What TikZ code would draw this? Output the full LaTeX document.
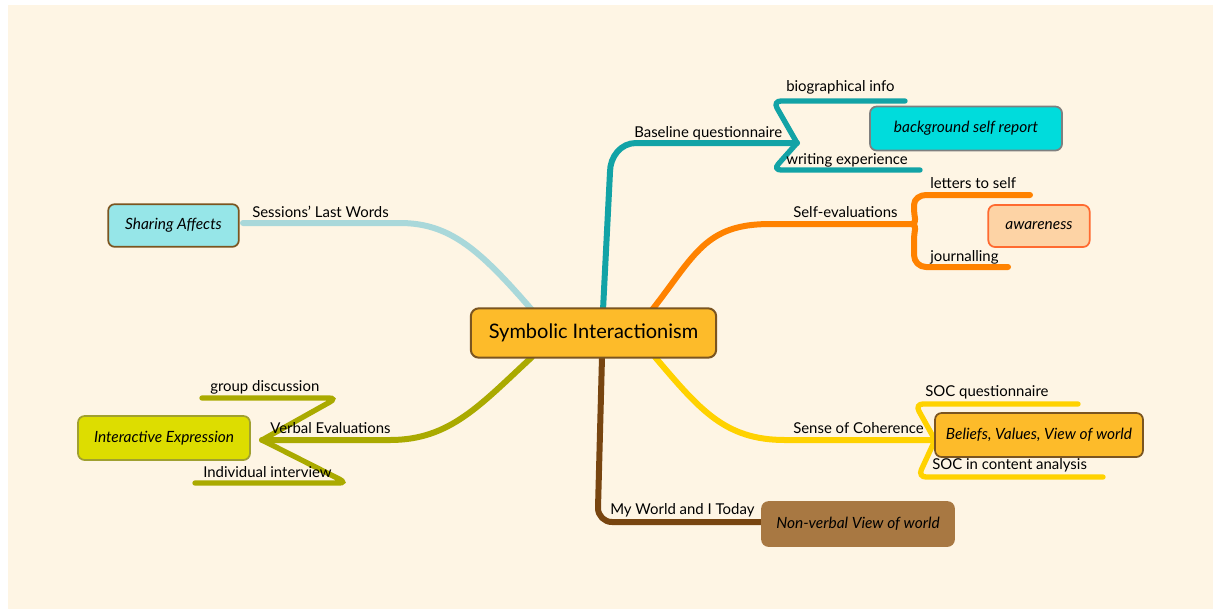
\documentclass[tikz,border=0pt]{standalone}
\usepackage{fontspec}
\setmainfont{Lato}
\definecolor{bgc}{HTML}{FEF5E4}
\definecolor{tealc}{HTML}{12A3A6}
\definecolor{orc}{HTML}{FF8200}
\definecolor{lbc}{HTML}{A9D8DA}
\definecolor{olc}{HTML}{AAAA00}
\definecolor{yec}{HTML}{FFD200}
\definecolor{brc}{HTML}{784510}
\definecolor{boxbr}{HTML}{7B5520}
\definecolor{cfill}{HTML}{FDBB2A}
\definecolor{bsrdraw}{HTML}{7F7F7F}
\definecolor{bsrfill}{HTML}{00DCDC}
\definecolor{awdraw}{HTML}{FF6A30}
\definecolor{awfill}{HTML}{FDD3A5}
\definecolor{safill}{HTML}{96E6E8}
\definecolor{iedraw}{HTML}{A0A030}
\definecolor{iefill}{HTML}{DDDD00}
\definecolor{nvfill}{HTML}{A87842}
\begin{document}
\begin{tikzpicture}[x=0.75pt,y=-0.75pt,
  br/.style={line width=4.5pt,line cap=round,line join=round},
  sub/.style={line width=4pt,line cap=round,rounded corners=6pt},
  lab/.style={anchor=west,inner sep=0pt,font=\fontsize{11.2}{13}\selectfont},
  topic/.style={rounded corners=5pt,line width=1.3pt,minimum height=33pt,font=\fontsize{11.6}{13}\selectfont\itshape}]
\fill[white] (0,0) rectangle (1221,612);
\fill[bgc] (8,5) rectangle (1213,609);
% branches first
\coordinate (tq) at (797,143);
\coordinate (oe) at (912,224);
\coordinate (lbe) at (243,223);
\coordinate (ole) at (262,440);
\coordinate (ye) at (935,440);
\coordinate (bre) at (765,522);
\draw[br,tealc] (603,310) -- (610,172) to[out=90,in=180] (636,143) -- (tq);
\draw[sub,tealc] (tq) -- (773,101) -- (905,101);
\draw[sub,tealc] (tq) -- (773,170) -- (920,170);
\draw[br,orc] (652,310) .. controls (695,255) and (705,224) .. (770,224) -- (oe);
\draw[br,orc] (oe) to[out=0,in=-90] (914,210) -- (914,205) to[out=90,in=180] (926,195) -- (1030,195);
\draw[br,orc] (oe) to[out=0,in=90] (914,238) -- (914,255) to[out=-90,in=180] (926,267) -- (1008,267);
\draw[br,lbc] (532,310) .. controls (480,250) and (450,223) .. (400,223) -- (lbe);
\draw[br,olc] (532,357) .. controls (480,405) and (450,440) .. (390,440) -- (ole);
\draw[sub,olc] (ole) -- (337,398) -- (202,398);
\draw[sub,olc] (ole) -- (347,483) -- (195,483);
\draw[br,yec] (655,357) .. controls (700,410) and (725,440) .. (785,440) -- (ye);
\draw[sub,yec] (ye) -- (915,404) -- (1078,404);
\draw[sub,yec] (ye) -- (918,477) -- (1103,477);
\draw[br,brc] (602,357) -- (598,508) to[out=-90,in=180] (612,522) -- (bre);
% central
\node[rounded corners=6pt,line width=1.5pt,draw=boxbr,fill=cfill,minimum width=184pt,minimum height=37pt,font=\fontsize{15}{17}\selectfont] (c) at (593.5,333) {Symbolic Interactionism};
% topic boxes
\node[topic,draw=bsrdraw,fill=bsrfill,minimum width=144pt] (bsr) at (966,128.5) {background self report};
\node[topic,draw=awdraw,fill=awfill,minimum width=76pt,minimum height=31.5pt] (aw) at (1039,226) {awareness};
\node[topic,draw=boxbr,fill=safill,minimum width=98pt,minimum height=32pt] (sa) at (173.5,225.5) {Sharing Affects};
\node[topic,draw=iedraw,fill=iefill,minimum width=129pt] (ie) at (164,438) {Interactive Expression};
\node[topic,draw=boxbr,fill=cfill,minimum width=156pt] (bv) at (1039,435) {Beliefs, Values, View of world};
\node[topic,draw=nvfill,fill=nvfill,minimum width=144pt] (nv) at (858,524) {Non-verbal View of world};
% labels
\node[lab] (l1) at (634,133) {Baseline questionnaire};
\node[lab] (l2) at (786,87) {biographical info};
\node[lab] (l3) at (786,160) {writing experience};
\node[lab] (l4) at (793,212) {Self-evaluations};
\node[lab] (l5) at (930,183) {letters to self};
\node[lab] (l6) at (930,257) {journalling};
\node[lab] (l7) at (252,212) {Sessions' Last Words};
\node[lab] (l8) at (210,387) {group discussion};
\node[lab] (l9) at (270,428) {Verbal Evaluations};
\node[lab] (l10) at (203,472) {Individual interview};
\node[lab] (l11) at (793,428) {Sense of Coherence};
\node[lab] (l12) at (925,392) {SOC questionnaire};
\node[lab] (l13) at (932,465) {SOC in content analysis};
\node[lab] (l14) at (610,510) {My World and I Today};
\end{tikzpicture}
\end{document}
